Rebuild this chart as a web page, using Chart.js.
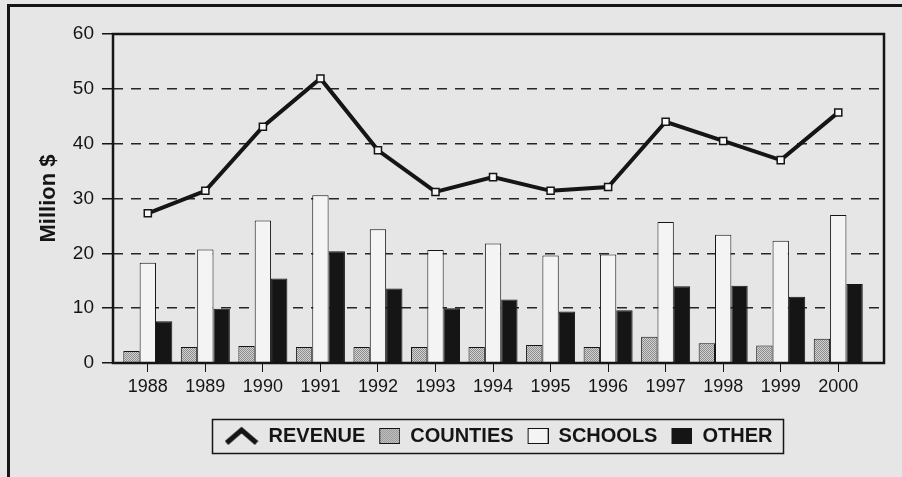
<!DOCTYPE html>
<html>
<head>
<meta charset="utf-8">
<script src="https://cdn.jsdelivr.net/npm/chart.js@4/dist/chart.umd.min.js"></script>
<style>
  html, body { margin: 0; padding: 0; background: #e6e6e6; }
  #wrap { width: 902px; height: 477px; position: relative; }
</style>
</head>
<body>
<div id="wrap"><canvas id="myChart"></canvas></div>
<script>
// values in million $
var years = [1988, 1989, 1990, 1991, 1992, 1993, 1994, 1995, 1996, 1997, 1998, 1999, 2000];
var revenue = [27.3, 31.4, 43.1, 51.9, 38.8, 31.2, 33.9, 31.4, 32.1, 44.0, 40.5, 37.0, 45.7];
var counties = [2.2, 2.9, 3.1, 2.9, 2.9, 2.9, 2.9, 3.3, 2.9, 4.8, 3.6, 3.2, 4.4];
var schools = [18.3, 20.7, 26.0, 30.6, 24.4, 20.6, 21.8, 19.6, 19.8, 25.7, 23.4, 22.3, 27.0];
var other = [7.6, 9.9, 15.4, 20.4, 13.6, 10.0, 11.6, 9.4, 9.6, 14.0, 14.1, 12.1, 14.4];

var seriesNames = ['REVENUE', 'COUNTIES', 'SCHOOLS', 'OTHER'];
var yTicks = [0, 10, 20, 30, 40, 50, 60];

var ink = '#151515';
var paper = '#e6e6e6';

// stippled fill for the counties bars
function stipple() {
    var c = document.createElement('canvas');
    c.width = 2; c.height = 2;
    var g = c.getContext('2d');
    g.fillStyle = '#d2d2d2'; g.fillRect(0, 0, 2, 2);
    g.fillStyle = '#8c8c8c'; g.fillRect(0, 0, 1, 1); g.fillRect(1, 1, 1, 1);
    return g.createPattern(c, 'repeat');
}
var countiesFill = stipple();

function points(vals) {
    return years.map(function (y, i) { return { x: y, y: vals[i] }; });
}

// legend icons
function chevronIcon() {
    var c = document.createElement('canvas');
    c.width = 34; c.height = 20;
    var g = c.getContext('2d');
    g.strokeStyle = ink; g.lineWidth = 5; g.lineJoin = 'miter';
    g.beginPath(); g.moveTo(2, 17); g.lineTo(17, 4); g.lineTo(32, 17); g.stroke();
    return c;
}
function boxIcon(fill) {
    var c = document.createElement('canvas');
    c.width = 34; c.height = 16;
    var g = c.getContext('2d');
    g.fillStyle = fill; g.fillRect(13, 0.5, 20.5, 15);
    g.strokeStyle = ink; g.lineWidth = 1; g.strokeRect(13.5, 0.5, 20, 15);
    return c;
}
var icons = [chevronIcon(), boxIcon(countiesFill), boxIcon('#f4f4f4'), boxIcon(ink)];

var framePlugin = {
    id: 'frame',
    beforeDraw: function (chart) {
        var c = chart.ctx;
        c.save();
        c.fillStyle = paper;
        c.fillRect(0, 0, chart.width, chart.height);
        c.fillStyle = ink;
        c.fillRect(7, 4, 3, chart.height);
        c.fillRect(7, 4, chart.width, 3);
        c.restore();
    },
    afterDraw: function (chart) {
        var c = chart.ctx, a = chart.chartArea;
        c.save();
        c.strokeStyle = ink;
        c.lineWidth = 2.5;
        c.strokeRect(a.left, a.top, a.right - a.left, a.bottom - a.top);
        // box round the legend row
        var hb = chart.legend.legendHitBoxes;
        if (hb && hb.length) {
            var first = hb[0], last = hb[hb.length - 1];
            var cy = first.top + first.height / 2;
            c.lineWidth = 1.5;
            c.strokeRect(Math.round(first.left - 13) + 0.5, Math.round(cy - 17) + 0.5,
                Math.round(last.left + last.width - first.left + 23), 34);
        }
        c.restore();
    }
};

var ctx = document.getElementById('myChart').getContext('2d');
var myChart = new Chart(ctx, {
    type: 'bar',
    data: {
        datasets: [{
            type: 'line',
            label: seriesNames[0],
            data: points(revenue),
            borderColor: ink,
            borderWidth: 4,
            pointStyle: 'rect',
            pointRadius: 5,
            pointBackgroundColor: '#f7f7f7',
            pointBorderColor: ink,
            pointBorderWidth: 1.5,
            tension: 0,
            order: 0
        }, {
            label: seriesNames[1],
            data: points(counties),
            backgroundColor: countiesFill,
            borderColor: ink,
            borderWidth: 1,
            order: 1
        }, {
            label: seriesNames[2],
            data: points(schools),
            backgroundColor: '#f4f4f4',
            borderColor: ink,
            borderWidth: 1,
            order: 1
        }, {
            label: seriesNames[3],
            data: points(other),
            backgroundColor: ink,
            borderColor: ink,
            borderWidth: 1,
            order: 1
        }]
    },
    options: {
        responsive: true,
        maintainAspectRatio: false,
        animation: false,
        categoryPercentage: 0.852,
        barPercentage: 1.0,
        layout: { padding: { top: 34, right: 18, bottom: 21, left: 0 } },
        plugins: {
            tooltip: { enabled: false },
            legend: {
                position: 'bottom',
                fullSize: false,
                labels: {
                    usePointStyle: true,
                    pointStyleWidth: 34,
                    padding: 1,
                    color: ink,
                    font: { family: 'Liberation Sans, Arial, sans-serif', size: 20, weight: 'bold' },
                    generateLabels: function (chart) {
                        return chart.data.datasets.map(function (ds, i) {
                            return {
                                text: ds.label,
                                pointStyle: icons[i],
                                fillStyle: 'rgba(0,0,0,0)',
                                strokeStyle: 'rgba(0,0,0,0)',
                                lineWidth: 0,
                                fontColor: ink,
                                hidden: false,
                                datasetIndex: i
                            };
                        });
                    }
                }
            }
        },
        scales: {
            x: {
                type: 'linear',
                min: 1987.395,
                max: 2000.795,
                offset: false,
                afterBuildTicks: function (s) {
                    s.ticks = years.map(function (v) { return { value: v }; });
                },
                afterFit: function (s) { s.height = 62; },
                ticks: {
                    autoSkip: false,
                    maxRotation: 0,
                    padding: 4,
                    color: ink,
                    font: { family: 'Liberation Sans, Arial, sans-serif', size: 18 },
                    callback: function (v) { return String(v); }
                },
                grid: {
                    offset: false,
                    drawOnChartArea: false,
                    color: ink,
                    lineWidth: 1,
                    tickLength: 9
                },
                border: { display: false }
            },
            y: {
                min: 0,
                max: 60,
                afterBuildTicks: function (s) {
                    s.ticks = yTicks.map(function (v) { return { value: v }; });
                },
                afterFit: function (s) { s.width = 113; },
                ticks: {
                    padding: 8,
                    color: ink,
                    font: { family: 'Liberation Sans, Arial, sans-serif', size: 19 }
                },
                grid: {
                    color: '#262626',
                    lineWidth: 1.5,
                    tickLength: 11,
                    tickBorderDash: [],
                    tickWidth: 1.5,
                    tickColor: ink
                },
                border: { display: false, dash: [10, 8] },
                title: {
                    display: true,
                    text: 'Million $',
                    color: ink,
                    padding: { top: 36, bottom: 0 },
                    font: { family: 'Liberation Sans, Arial, sans-serif', size: 22, weight: 'bold' }
                }
            }
        }
    },
    plugins: [framePlugin]
});
</script>
</body>
</html>
